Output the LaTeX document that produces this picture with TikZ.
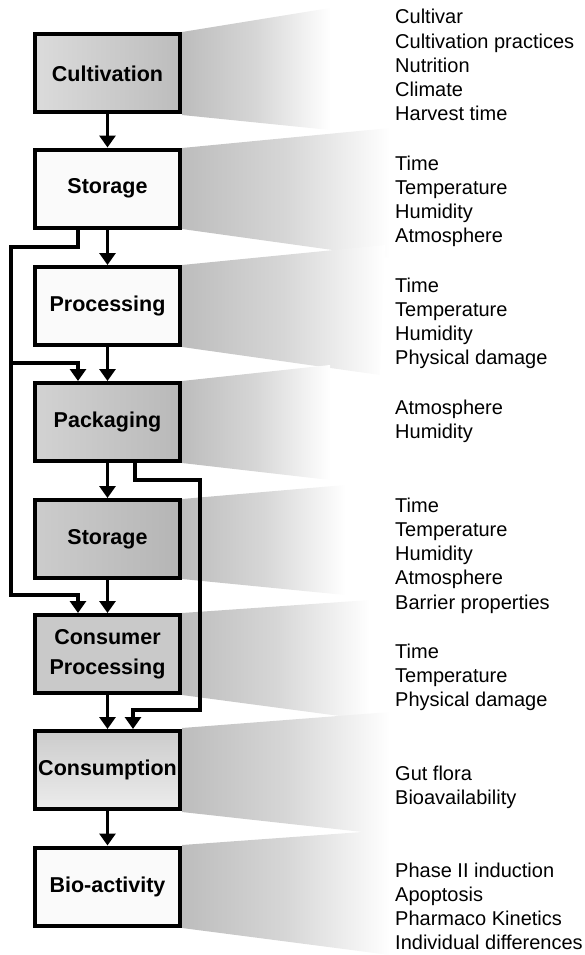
\documentclass[tikz,border=0pt]{standalone}
\usepackage{fontspec}
\setmainfont{Liberation Sans}
\usetikzlibrary{arrows.meta}
\begin{document}
\begin{tikzpicture}[x=1pt,y=-1pt,
  box/.style={draw=black, line width=4pt, minimum width=145pt, minimum height=78pt,
    inner sep=0pt, align=center, font=\bfseries\fontsize{21.5}{30}\selectfont},
  arr/.style={line width=3.5pt, line join=miter, -{Triangle[width=16pt,length=12pt]}},
  fan/.style={left color=gray!52, right color=white, middle color=gray!32},
  item/.style={anchor=base west, inner sep=0pt, font=\fontsize{20}{24}\selectfont}]

\useasboundingbox (0,0) rectangle (585,955);

% fans
\shade[fan] (182,32)  -- (330,8)   -- (330,130) -- (182,115) -- cycle;
\shade[fan] (182,148) -- (390,128) -- (390,258) -- (182,229) -- cycle;
\shade[fan] (182,265) -- (385,245) -- (380,375) -- (182,347) -- cycle;
\shade[fan] (182,381) -- (330,365) -- (330,480) -- (182,463) -- cycle;
\shade[fan] (182,499) -- (345,485) -- (345,595) -- (182,579) -- cycle;
\shade[fan] (182,613) -- (370,600) -- (370,720) -- (182,695) -- cycle;
\shade[fan] (182,728) -- (390,712) -- (390,835) -- (182,812) -- cycle;
\shade[fan] (182,845) -- (390,830) -- (390,955) -- (182,928) -- cycle;

% boxes
\node[box, left color=gray!28, right color=gray!52] (cult) at (107.5,73.5) {Cultivation};
\node[box, fill=gray!4] (stor1) at (107.5,188.5) {Storage};
\node[box, fill=gray!4] (proc) at (107.5,306) {Processing};
\node[box, left color=gray!35, right color=gray!55] (pack) at (107.5,422) {Packaging};
\node[box, left color=gray!40, right color=gray!58] (stor2) at (107.5,539) {Storage};
\node[box, fill=gray!42] (cpro) at (107.5,654) {Consumer\\Processing};
\node[box, top color=gray!40, bottom color=gray!15] (cons) at (107.5,770) {Consumption};
\node[box, fill=gray!4] (bio) at (107.5,886.5) {Bio-activity};

% main arrows
\draw[arr] (cult.south) -- (stor1.north);
\draw[arr] (stor1.south) -- (proc.north);
\draw[arr] (proc.south) -- (pack.north);
\draw[arr] (pack.south) -- (stor2.north);
\draw[arr] (stor2.south) -- (cpro.north);
\draw[arr] (cpro.south) -- (cons.north);
\draw[arr] (cons.south) -- (bio.north);

% bypass lines
\coordinate (k1) at (11,247);
\coordinate (k2) at (11,595);
\coordinate (k3) at (11,363);
\coordinate (k4) at (200,480);
\coordinate (k5) at (200,710);
\draw[arr] ([xshift=-29.5pt]stor1.south) |- (k1) -- (k2) -| ([xshift=-29.5pt]cpro.north);
\draw[arr] (k3) -| ([xshift=-29.5pt]pack.north);
\draw[arr] ([xshift=27.5pt]pack.south) |- (k4) -- (k5) -| ([xshift=25.5pt]cons.north);

% factor lists
\foreach \t [count=\i from 0] in {Cultivar, Cultivation practices, Nutrition, Climate, Harvest time}
  \node[item] (ga\i) at (395,{24+24.25*\i}) {\t};
\foreach \t [count=\i from 0] in {Time, Temperature, Humidity, Atmosphere}
  \node[item] (gb\i) at (395,{170+24.25*\i}) {\t};
\foreach \t [count=\i from 0] in {Time, Temperature, Humidity, Physical damage}
  \node[item] (gc\i) at (395,{292+24.25*\i}) {\t};
\foreach \t [count=\i from 0] in {Atmosphere, Humidity}
  \node[item] (gd\i) at (395,{414+24.25*\i}) {\t};
\foreach \t [count=\i from 0] in {Time, Temperature, Humidity, Atmosphere, Barrier properties}
  \node[item] (ge\i) at (395,{512+24.25*\i}) {\t};
\foreach \t [count=\i from 0] in {Time, Temperature, Physical damage}
  \node[item] (gf\i) at (395,{658+24.25*\i}) {\t};
\foreach \t [count=\i from 0] in {Gut flora, Bioavailability}
  \node[item] (gg\i) at (395,{780+24.25*\i}) {\t};
\foreach \t [count=\i from 0] in {Phase II induction, Apoptosis, Pharmaco Kinetics, Individual differences}
  \node[item] (gh\i) at (395,{877+24.25*\i}) {\t};
\end{tikzpicture}
\end{document}
